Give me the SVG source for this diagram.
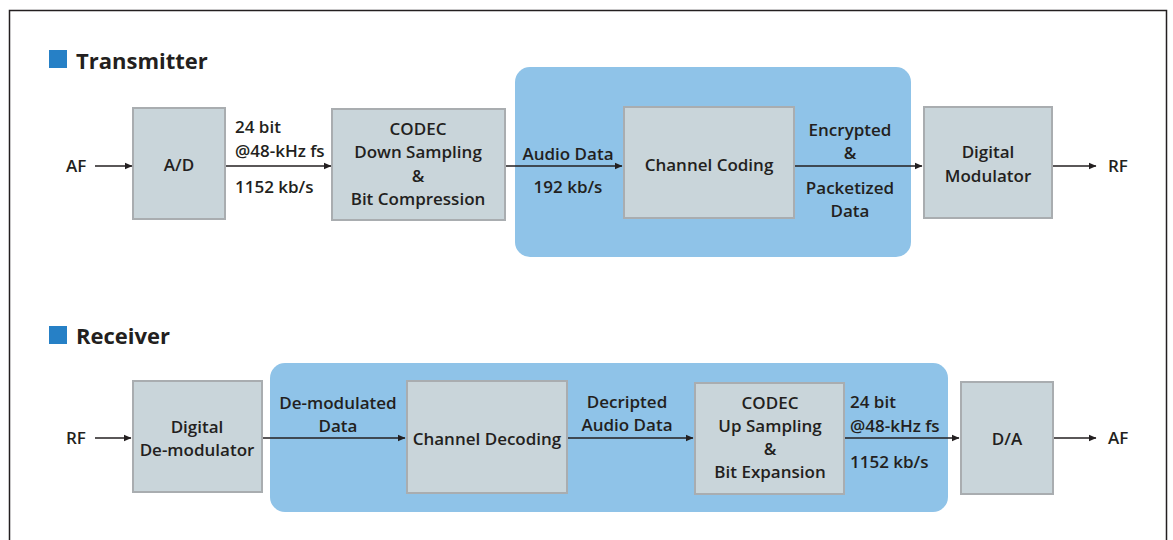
<svg xmlns="http://www.w3.org/2000/svg" width="1173" height="540" viewBox="0 0 1173 540">
<style>
text{font-family:"Open Sans","Liberation Sans",sans-serif;font-weight:600;fill:#231f20;font-size:17px}
.c{text-anchor:middle}
.h{font-size:22px;font-weight:700}
.box{fill:#c9d5da;stroke:#a9adb0;stroke-width:2}
.panel{fill:#8fc3e8}
.ln{stroke:#231f20;stroke-width:1.3;fill:none;marker-end:url(#ah)}
</style>
<defs>
<marker id="ah" markerWidth="8" markerHeight="8" refX="7" refY="4" orient="auto" markerUnits="userSpaceOnUse">
<path d="M0,0.8 L7.5,4 L0,7.2 Z" fill="#231f20"/>
</marker>
</defs>
<rect width="1173" height="540" fill="#fff"/>
<path d="M9.5,545 V10.5 H1166.5 V545" fill="none" stroke="#231f20" stroke-width="1.5"/>

<g id="tx-heading">
<rect x="49" y="50" width="18" height="18" fill="#2680c6"/>
<text class="h" x="76" y="69">Transmitter</text>
</g>
<g id="tx-panel"><rect class="panel" x="515" y="67" width="396" height="190" rx="15"/></g>
<g id="ad"><rect class="box" x="133" y="108" width="92" height="111"/><text class="c" x="179" y="171">A/D</text></g>
<g id="codec-down"><rect class="box" x="332" y="109" width="173" height="111"/>
<text class="c" x="418" y="135">CODEC</text><text class="c" x="418" y="158">Down Sampling</text><text class="c" x="418" y="182">&amp;</text><text class="c" x="418" y="205">Bit Compression</text></g>
<g id="channel-coding"><rect class="box" x="624" y="107" width="170" height="111"/><text class="c" x="709" y="171">Channel Coding</text></g>
<g id="digital-modulator"><rect class="box" x="924" y="107" width="128" height="111"/>
<text class="c" x="988" y="158">Digital</text><text class="c" x="988" y="182">Modulator</text></g>

<g id="rx-heading">
<rect x="49" y="326" width="18" height="18" fill="#2680c6"/>
<text class="h" x="76" y="344">Receiver</text>
</g>
<g id="rx-panel"><rect class="panel" x="270" y="363" width="678" height="149" rx="15"/></g>
<g id="digital-demodulator"><rect class="box" x="133" y="381" width="129" height="111"/>
<text class="c" x="197" y="433">Digital</text><text class="c" x="197" y="456">De-modulator</text></g>
<g id="channel-decoding"><rect class="box" x="407" y="381" width="160" height="112"/><text class="c" x="487" y="445">Channel Decoding</text></g>
<g id="codec-up"><rect class="box" x="695" y="383" width="149" height="111"/>
<text class="c" x="770" y="409">CODEC</text><text class="c" x="770" y="432">Up Sampling</text><text class="c" x="770" y="455">&amp;</text><text class="c" x="770" y="478">Bit Expansion</text></g>
<g id="da"><rect class="box" x="961" y="382" width="92" height="112"/><text class="c" x="1007" y="445">D/A</text></g>

<g id="connectors">
<line class="ln" x1="95" y1="166" x2="132" y2="166"/>
<line class="ln" x1="226" y1="166" x2="331" y2="166"/>
<line class="ln" x1="506" y1="166" x2="622" y2="166"/>
<line class="ln" x1="795" y1="166" x2="922" y2="166"/>
<line class="ln" x1="1053" y1="166" x2="1096" y2="166"/>
<line class="ln" x1="95" y1="438" x2="131" y2="438"/>
<line class="ln" x1="263" y1="438" x2="405" y2="438"/>
<line class="ln" x1="568" y1="438" x2="693" y2="438"/>
<line class="ln" x1="845" y1="438" x2="959" y2="438"/>
<line class="ln" x1="1054" y1="438" x2="1096" y2="438"/>
</g>

<g id="labels">
<text x="66" y="172">AF</text>
<text x="1108" y="172">RF</text>
<text x="235" y="133">24 bit</text>
<text x="235" y="157">@48-kHz fs</text>
<text x="235" y="193">1152 kb/s</text>
<text class="c" x="568" y="160">Audio Data</text>
<text class="c" x="568" y="193">192 kb/s</text>
<text class="c" x="850" y="136">Encrypted</text>
<text class="c" x="850" y="159">&amp;</text>
<text class="c" x="850" y="194">Packetized</text>
<text class="c" x="850" y="217">Data</text>
<text x="66" y="444">RF</text>
<text x="1108" y="444">AF</text>
<text class="c" x="338" y="409">De-modulated</text>
<text class="c" x="338" y="432">Data</text>
<text class="c" x="627" y="408">Decripted</text>
<text class="c" x="627" y="431">Audio Data</text>
<text x="850" y="408">24 bit</text>
<text x="850" y="432">@48-kHz fs</text>
<text x="850" y="468">1152 kb/s</text>
</g>
</svg>
